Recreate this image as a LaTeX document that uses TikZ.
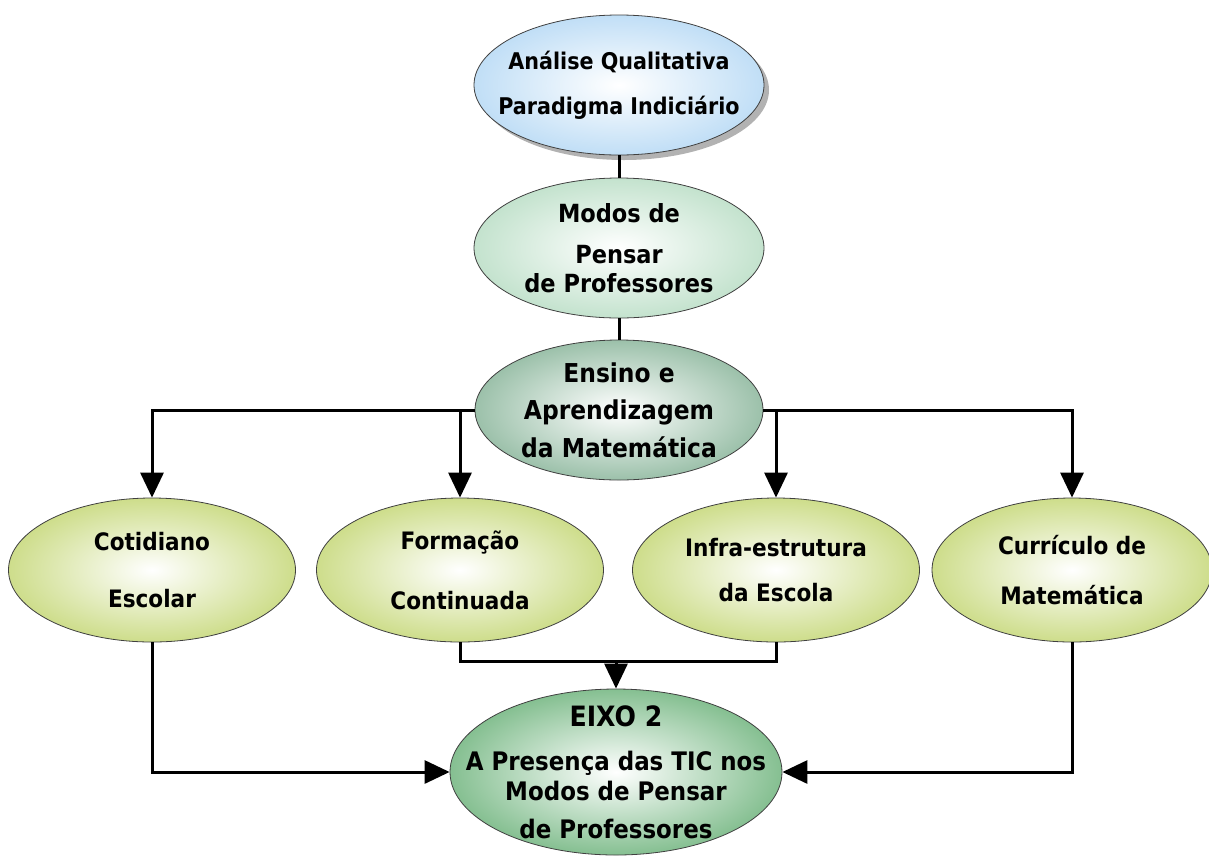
\documentclass[tikz,border=0pt]{standalone}
\usepackage{fontspec}
\setmainfont{DejaVu Sans Condensed}
\usetikzlibrary{shapes.geometric,arrows.meta,shadows}
\definecolor{cTop}{RGB}{150,200,240}
\definecolor{cModos}{RGB}{155,207,172}
\definecolor{cEns}{RGB}{88,150,112}
\definecolor{cMid}{RGB}{172,198,60}
\definecolor{cEixo}{RGB}{50,148,70}
\pgfdeclareradialshading{shTop}{\pgfpoint{0bp}{0bp}}{color(0bp)=(white); color(42bp)=(cTop); color(60bp)=(cTop)}
\pgfdeclareradialshading{shModos}{\pgfpoint{0bp}{0bp}}{color(0bp)=(white); color(42bp)=(cModos); color(60bp)=(cModos)}
\pgfdeclareradialshading{shEns}{\pgfpoint{0bp}{0bp}}{color(0bp)=(white); color(42bp)=(cEns); color(60bp)=(cEns)}
\pgfdeclareradialshading{shMid}{\pgfpoint{0bp}{0bp}}{color(0bp)=(white); color(42bp)=(cMid); color(60bp)=(cMid)}
\pgfdeclareradialshading{shEixo}{\pgfpoint{0bp}{0bp}}{color(0bp)=(white); color(42bp)=(cEixo); color(60bp)=(cEixo)}
\begin{document}
\begin{tikzpicture}[x=1pt,y=-1pt,
  bub/.style={ellipse, draw=black!75, line width=0.8pt, inner sep=0pt, shade},
  lab/.style={align=center, text=black, inner sep=0pt},
  mid/.style={bub, shading=shMid, minimum width=287pt, minimum height=144pt},
  midt/.style={lab, font=\fontsize{24}{28}\selectfont\bfseries},
  conn/.style={line width=3pt, draw=black},
  arr/.style={conn, -{Triangle[width=23pt,length=25pt]}},
]
\useasboundingbox (0,0) rectangle (1209,855);
\fill[white] (0,0) rectangle (1209,855);

% ellipses
\node[bub, shading=shTop, minimum width=290pt, minimum height=140pt,
  drop shadow={shadow xshift=5pt, shadow yshift=-5pt, fill=black, opacity=0.3}] (top) at (619,85) {};
\node[bub, shading=shModos, minimum width=290pt, minimum height=140pt] (modos) at (619,248) {};
\node[bub, shading=shEns, minimum width=288pt, minimum height=140pt] (ens) at (619,410) {};
\node[mid] (cot) at (152,570) {};
\node[mid] (form) at (460,570) {};
\node[mid] (infra) at (776,570) {};
\node[mid, minimum width=280pt] (cur) at (1072,570) {};
\node[bub, shading=shEixo, minimum width=332pt, minimum height=166pt] (eixo) at (616,772) {};

% texts
\node[lab, font=\fontsize{23}{27}\selectfont\bfseries] (topT) at (top)
  {Análise Qualitativa\\[18pt]Paradigma Indiciário};
\node[lab, font=\fontsize{25}{30}\selectfont\bfseries] (modosT) at (modos)
  {Modos de\\[11pt]Pensar\\[-1pt]de Professores};
\node[lab, font=\fontsize{26}{31}\selectfont\bfseries] (ensT) at (ens)
  {Ensino e\\[6pt]Aprendizagem\\[7pt]da Matemática};
\node[midt] (cotT) at (cot) {Cotidiano\\[29pt]Escolar};
\node[midt] (formT) at (form) {Formação\\[32pt]Continuada};
\node[midt] (infraT) at (infra) {Infra-estrutura\\[17pt]da Escola};
\node[midt] (curT) at (cur) {Currículo de\\[22pt]Matemática};
\node[lab, font=\fontsize{25.5}{30}\selectfont\bfseries] (eixoT) at (eixo)
  {{\fontsize{28}{30}\selectfont EIXO 2}\\[14pt]A Presença das TIC nos\\[0pt]Modos de Pensar\\[8pt]de Professores};

\coordinate (j) at (616,661);

% connectors
\draw[conn] (top.south) -- (modos.north);
\draw[conn] (modos.south) -- (ens.north);
\draw[arr] (ens.west) -| (cot.north);
\draw[arr] (ens.west -| form.north) -- (form.north);
\draw[arr] (ens.east) -| (cur.north);
\draw[arr] (ens.east -| infra.north) -- (infra.north);
\draw[conn] (form.south) |- (j) -| (infra.south);
\draw[arr] (j) -- (eixo.north);
\draw[arr] (cot.south) |- (eixo.west);
\draw[arr] (cur.south) |- (eixo.east);
\end{tikzpicture}
\end{document}
